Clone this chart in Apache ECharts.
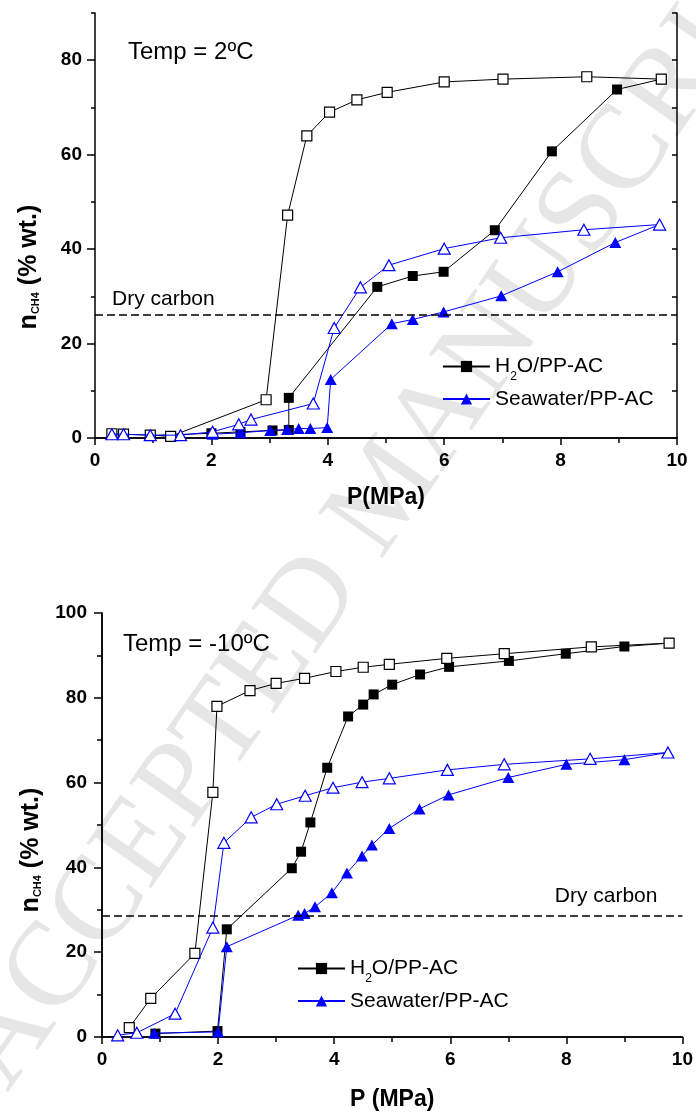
<!DOCTYPE html>
<html><head><meta charset="utf-8">
<script src="https://cdn.jsdelivr.net/npm/echarts@6/dist/echarts.min.js"></script>
<style>html,body{margin:0;padding:0;background:#fff;}#c{width:696px;height:1113px;}</style>
</head><body><div id="c"></div>
<script>
// ---------- DATA ----------
// Top panel: Temp = 2 ºC
const t2_h2o_p   = [0.95, 2.0, 2.5, 3.05, 3.33, 3.33, 4.85, 5.46, 5.99, 6.87, 7.85, 8.97, 9.73];
const t2_h2o_n   = [0.5, 1.0, 1.3, 1.6, 1.7, 8.5, 32.0, 34.3, 35.2, 44.0, 60.7, 73.8, 76.0];
const t2_h2oD_p  = [0.29, 0.49, 0.95, 1.3, 2.94, 3.31, 3.64, 4.03, 4.50, 5.02, 6.00, 7.01, 8.45, 9.73];
const t2_h2oD_n  = [0.9, 0.8, 0.6, 0.35, 8.1, 47.2, 64.0, 69.0, 71.6, 73.2, 75.4, 76.0, 76.5, 76.0];
const t2_sea_p   = [2.02, 2.5, 3.01, 3.3, 3.5, 3.7, 3.99, 4.05, 5.10, 5.46, 5.99, 6.98, 7.95, 8.94, 9.70];
const t2_sea_n   = [0.8, 1.1, 1.6, 1.8, 2.0, 2.0, 2.2, 12.4, 24.2, 25.1, 26.7, 30.1, 35.2, 41.4, 45.2];
const t2_seaD_p  = [0.29, 0.49, 0.95, 1.47, 2.02, 2.47, 2.68, 3.75, 4.11, 4.56, 5.05, 6.0, 6.97, 8.4, 9.70];
const t2_seaD_n  = [0.8, 0.8, 0.6, 0.6, 1.3, 2.9, 3.9, 7.3, 23.3, 31.9, 36.6, 40.1, 42.4, 44.1, 45.2];
const t2_dry = 26;
// Bottom panel: Temp = -10 ºC
const tm10_h2o_p  = [0.92, 1.99, 2.15, 3.27, 3.43, 3.59, 3.88, 4.24, 4.50, 4.68, 5.0, 5.48, 5.98, 7.01, 7.99, 9.0, 9.77];
const tm10_h2o_n  = [0.8, 1.4, 25.4, 39.8, 43.7, 50.6, 63.5, 75.6, 78.4, 80.8, 83.1, 85.5, 87.3, 88.7, 90.4, 92.1, 92.9];
const tm10_h2oD_p = [0.47, 0.84, 1.60, 1.91, 1.98, 2.55, 3.0, 3.49, 4.03, 4.50, 4.95, 5.94, 6.93, 8.43, 9.77];
const tm10_h2oD_n = [2.2, 9.1, 19.7, 57.7, 78.0, 81.7, 83.4, 84.6, 86.2, 87.2, 87.9, 89.3, 90.4, 92.0, 92.9];
const tm10_sea_p  = [0.9, 2.0, 2.15, 3.38, 3.49, 3.67, 3.96, 4.22, 4.48, 4.65, 4.95, 5.47, 5.97, 7.0, 8.0, 9.0, 9.75];
const tm10_sea_n  = [0.9, 1.2, 21.3, 28.7, 29.1, 30.7, 34.0, 38.7, 42.7, 45.3, 49.2, 53.8, 57.1, 61.2, 64.3, 65.4, 67.1];
const tm10_seaD_p = [0.27, 0.60, 1.26, 1.91, 2.10, 2.57, 3.01, 3.50, 3.98, 4.48, 4.95, 5.95, 6.93, 8.41, 9.75];
const tm10_seaD_n = [0.4, 1.0, 5.5, 25.8, 45.8, 51.8, 54.9, 56.9, 58.8, 60.1, 61.0, 63.0, 64.3, 65.6, 67.1];
const tm10_dry = 28.7;
// Tick labels
const yTopLabels = [0, 20, 40, 60, 80];
const yBotLabels = [0, 20, 40, 60, 80, 100];
const xLabels = [0, 2, 4, 6, 8, 10];
const legendNames = ['H2O/PP-AC', 'Seawater/PP-AC'];

// ---------- CHART ----------
const FONT = "'Liberation Sans', Arial, sans-serif";
const zip = (a, b) => a.map((v, i) => [v, b[i]]);
const BLACK = '#000000', BLUE = '#0000ff';

function line(name, xs, ys, xi, yi, symbol, color, filled, size, z) {
  return {
    name, type: 'line', xAxisIndex: xi, yAxisIndex: yi, data: zip(xs, ys),
    symbol, symbolSize: size, showSymbol: true, z, silent: true,
    lineStyle: { color, width: 1 },
    itemStyle: { color: filled ? color : '#ffffff', borderColor: color, borderWidth: filled ? 0 : 1.2, opacity: 1 },
    emphasis: { disabled: true }, animation: false
  };
}
function dryLine(val, pos, dist) {
  return {
    silent: true, symbol: ['none', 'none'], animation: false,
    lineStyle: { type: [8, 4], color: BLACK, width: 1.5 },
    label: { show: true, formatter: 'Dry carbon', position: pos, distance: dist, fontSize: 21, color: BLACK, fontFamily: FONT },
    data: [{ yAxis: val }]
  };
}
const labelStyle = (m) => ({ fontSize: 19, fontWeight: 'bold', color: BLACK, fontFamily: FONT, margin: m });
const axLine = { show: true, lineStyle: { color: BLACK, width: 1.5 } };

const grids = [
  { left: 95, top: 13, width: 582, height: 425 },
  { left: 102, top: 613, width: 582, height: 424 }
];

function xAxes(gi, gap, name) {
  return [
    { type: 'value', gridIndex: gi, position: 'bottom', min: 0, max: 10, interval: 2,
      axisLine: axLine, splitLine: { show: false },
      axisTick: { show: true, inside: false, length: 7, lineStyle: { color: BLACK, width: 1.5 } },
      minorTick: { show: true, splitNumber: 2, length: 4, lineStyle: { color: BLACK, width: 1.5 } },
      axisLabel: Object.assign(labelStyle(13), { customValues: xLabels }),
      name, nameLocation: 'middle', nameGap: gap,
      nameTextStyle: { fontSize: 23, fontWeight: 'bold', color: BLACK, fontFamily: FONT } },
    { type: 'value', gridIndex: gi, position: 'top', min: 0, max: 10, interval: 1,
      axisLine: axLine, splitLine: { show: false },
      axisTick: { show: true, inside: true, length: 5, lineStyle: { color: BLACK, width: 1.5 } },
      axisLabel: { show: false } }
  ];
}

const option = {
  backgroundColor: '#ffffff',
  animation: false,
  grid: grids,
  xAxis: [...xAxes(0, 48, 'P(MPa)'), ...xAxes(1, 51, 'P (MPa)')],
  yAxis: [
    // top panel
    { type: 'value', gridIndex: 0, position: 'left', min: 0, max: 90, interval: 10,
      axisLine: axLine, splitLine: { show: false },
      axisTick: { show: true, length: 8, customValues: yTopLabels, lineStyle: { color: BLACK, width: 1.5 } },
      axisLabel: Object.assign(labelStyle(13), { customValues: yTopLabels }) },
    { type: 'value', gridIndex: 0, position: 'left', min: 0, max: 90, interval: 10,
      axisLine: { show: false }, splitLine: { show: false }, axisLabel: { show: false },
      axisTick: { show: true, length: 4, lineStyle: { color: BLACK, width: 1.5 } } },
    { type: 'value', gridIndex: 0, position: 'right', min: 0, max: 90, interval: 10,
      axisLine: axLine, splitLine: { show: false }, axisLabel: { show: false },
      axisTick: { show: true, inside: true, length: 5, lineStyle: { color: BLACK, width: 1.5 } } },
    // bottom panel
    { type: 'value', gridIndex: 1, position: 'left', min: 0, max: 100, interval: 20,
      axisLine: axLine, splitLine: { show: false },
      axisTick: { show: true, length: 8, lineStyle: { color: BLACK, width: 1.5 } },
      minorTick: { show: true, splitNumber: 2, length: 4, lineStyle: { color: BLACK, width: 1.5 } },
      axisLabel: Object.assign(labelStyle(15), { customValues: yBotLabels }) },
    { type: 'value', gridIndex: 1, position: 'right', min: 0, max: 100, interval: 10,
      axisLine: axLine, splitLine: { show: false }, axisLabel: { show: false },
      axisTick: { show: true, inside: true, length: 5, lineStyle: { color: BLACK, width: 1.5 } } }
  ],
  legend: [0, 1].map(i => ({
    left: i === 0 ? 437 : 292, top: i === 0 ? 351 : 953, orient: 'vertical',
    itemWidth: 47, itemHeight: 14, itemGap: 6, selectedMode: false, data: legendNames,
    formatter: n => n === 'H2O/PP-AC' ? '{n|H}{s|2}{n|O/PP-AC}' : '{n|' + n + '}',
    textStyle: { color: BLACK, fontFamily: FONT, fontSize: 21,
      rich: { n: { fontSize: 21, fontFamily: FONT, color: BLACK },
              s: { fontSize: 12, fontFamily: FONT, color: BLACK, padding: [20, 0, 0, 0] } } }
  })),
  series: [
    Object.assign(line('H2O/PP-AC', t2_h2o_p, t2_h2o_n, 0, 0, 'rect', BLACK, true, 10, 3),
      { markLine: dryLine(t2_dry, 'insideStartTop', [17, 6]) }),
    line('H2O/PP-AC desorption', t2_h2oD_p, t2_h2oD_n, 0, 0, 'rect', BLACK, false, 10, 3),
    line('Seawater/PP-AC', t2_sea_p, t2_sea_n, 0, 0, 'triangle', BLUE, true, [12, 11], 4),
    line('Seawater/PP-AC desorption', t2_seaD_p, t2_seaD_n, 0, 0, 'triangle', BLUE, false, [12, 11], 4),

    Object.assign(line('H2O/PP-AC', tm10_h2o_p, tm10_h2o_n, 2, 3, 'rect', BLACK, true, 10, 3),
      { markLine: dryLine(tm10_dry, 'insideEndTop', [25, 9]) }),
    line('H2O/PP-AC desorption', tm10_h2oD_p, tm10_h2oD_n, 2, 3, 'rect', BLACK, false, 10, 3),
    line('Seawater/PP-AC', tm10_sea_p, tm10_sea_n, 2, 3, 'triangle', BLUE, true, [12, 11], 4),
    line('Seawater/PP-AC desorption', tm10_seaD_p, tm10_seaD_n, 2, 3, 'triangle', BLUE, false, [12, 11], 4)
  ],
  graphic: [
    { type: 'text', x: 390, y: 492, rotation: 55 * Math.PI / 180, z: -10, silent: true,
      style: { text: 'ACCEPTED MANUSCRIPT', fontFamily: "'Liberation Serif', 'DejaVu Serif', serif",
               fontSize: 120, fill: '#e6e6e6', align: 'center', verticalAlign: 'middle' } },
    { type: 'text', x: 128, y: 52, z: 10, silent: true,
      style: { text: 'Temp = 2ºC', fontFamily: FONT, fontSize: 24, fill: BLACK, align: 'left', verticalAlign: 'middle' } },
    { type: 'text', x: 123, y: 644, z: 10, silent: true,
      style: { text: 'Temp = -10ºC', fontFamily: FONT, fontSize: 24, fill: BLACK, align: 'left', verticalAlign: 'middle' } },
    ...[[29.5, 267], [31, 850]].map(([x, y]) => ({
      type: 'text', x, y, rotation: Math.PI / 2, z: 10, silent: true,
      style: { text: '{b|n}{s|CH4}{b| (% wt.)}', align: 'center', verticalAlign: 'middle',
        rich: { b: { fontSize: 25, fontWeight: 'bold', fontFamily: FONT, fill: BLACK },
                s: { fontSize: 11, fontWeight: 'bold', fontFamily: FONT, fill: BLACK, padding: [13, 0, 0, 0] } } }
    }))
  ]
};
const chart = echarts.init(document.getElementById('c'), null, { renderer: 'canvas' });
chart.setOption(option);
</script></body></html>
